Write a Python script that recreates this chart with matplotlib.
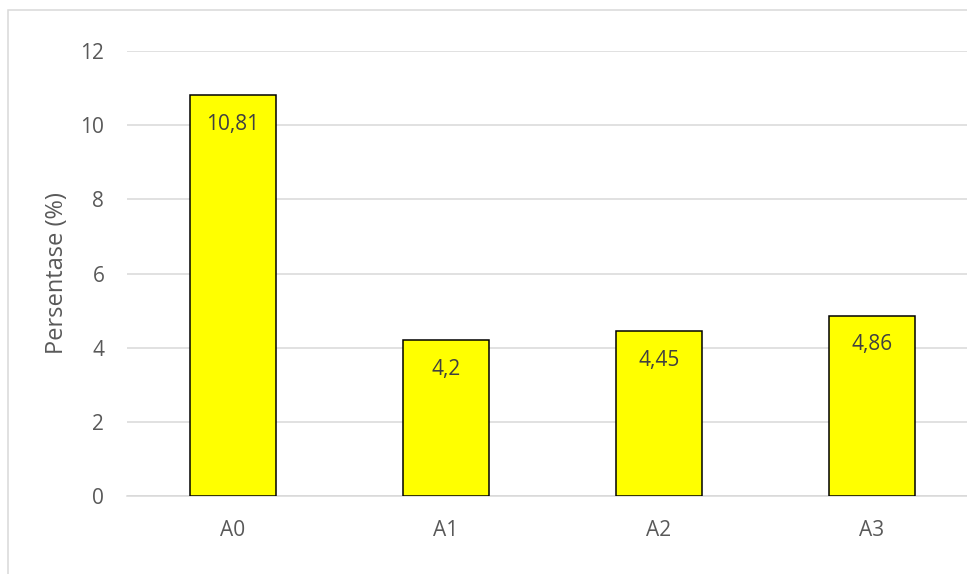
import matplotlib
matplotlib.use("Agg")
import matplotlib.pyplot as plt
from matplotlib.patches import Rectangle

categories = ["A0", "A1", "A2", "A3"]
values = [10.81, 4.2, 4.45, 4.86]
value_labels = ["10,81", "4,2", "4,45", "4,86"]
yticks = [0, 2, 4, 6, 8, 10, 12]

plt.rcParams["font.family"] = ["Open Sans", "DejaVu Sans"]

W, H = 967, 574
fig = plt.figure(figsize=(W / 100, H / 100), dpi=100)
ax = fig.add_axes([126.5 / W, 1 - 496 / H, 852 / W, 445 / H])

x = range(len(categories))
ax.bar(x, values, width=0.404, color="#ffff00", edgecolor="black", linewidth=1.1, zorder=3)

# value labels sit inside each bar, just under its top
for i, (v, lab) in enumerate(zip(values, value_labels)):
    ax.annotate(lab, (i, v), xytext=(0, -25), textcoords="offset points",
                ha="center", va="baseline", fontsize=15, color="#404040", zorder=4)

ax.set_xlim(-0.5, 3.5)
ax.set_ylim(0, 12)
ax.set_yticks(yticks)
ax.set_yticklabels([str(t) for t in yticks])
ax.set_xticks(list(x))
ax.set_xticklabels(categories)
ax.tick_params(axis="both", length=0, labelsize=15, labelcolor="#595959")
ax.tick_params(axis="y", pad=16)
ax.tick_params(axis="x", pad=17)
ax.grid(axis="y", color="#d9d9d9", linewidth=1.1, zorder=0)
for side in ["top", "right", "left"]:
    ax.spines[side].set_visible(False)
ax.spines["bottom"].set_color("#d9d9d9")
ax.spines["bottom"].set_linewidth(1.1)
ax.spines["bottom"].set_zorder(1)

ax.set_ylabel("Persentase (%)", fontsize=17, color="#595959")
ax.yaxis.set_label_coords(-0.0675, 0.5)

# chart area border
fig.patches.append(Rectangle((8 / W, -0.1), 1.1, 1.1 - 10 / H, transform=fig.transFigure,
                             fill=False, edgecolor="#d9d9d9", linewidth=1.1))

fig.savefig("out.png", dpi=100)
